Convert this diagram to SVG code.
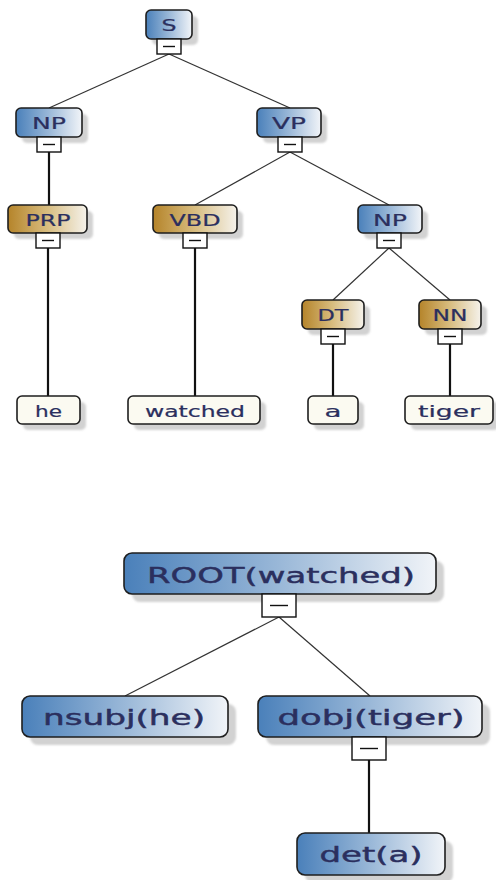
<svg xmlns="http://www.w3.org/2000/svg" width="496" height="880" viewBox="0 0 496 880">
  <defs>
    <linearGradient id="gPhrase" x1="0" y1="0" x2="1" y2="0">
      <stop offset="0" stop-color="#4a80ba"/>
      <stop offset="0.5" stop-color="#9ab8d8"/>
      <stop offset="1" stop-color="#f1f4f8"/>
    </linearGradient>
    <linearGradient id="gTag" x1="0" y1="0" x2="1" y2="0">
      <stop offset="0" stop-color="#b5842a"/>
      <stop offset="0.5" stop-color="#d8bd80"/>
      <stop offset="1" stop-color="#f5f2eb"/>
    </linearGradient>
    <filter id="soft" x="-20%" y="-30%" width="140%" height="160%">
      <feGaussianBlur stdDeviation="1.1"/>
    </filter>
  </defs>
  <style>
    .box{stroke:#1e1e1e;stroke-width:1.6}
    .phrase{fill:url(#gPhrase)}
    .tag{fill:url(#gTag)}
    .leaf{fill:#fbfaf1}
    .shadow{fill:#d2d2d2;filter:url(#soft)}
    .handle{fill:#fff;stroke:#111;stroke-width:1.4}
    .minus{stroke:#111;stroke-width:1.4}
    .edge{stroke:#333;stroke-width:1.2;fill:none}
    .stem{stroke:#111;stroke-width:2.2;fill:none}
    text{font-family:"DejaVu Sans",Verdana,sans-serif;fill:#2b2f5e;stroke:#2b2f5e;text-anchor:middle}
    .t1{font-size:15px;stroke-width:0.2}
    .t2{font-size:22px;stroke-width:0.45}
  </style>

  <!-- connectors -->
  <g id="connectors">
    <line class="edge" x1="169" y1="54" x2="49" y2="108"/>
    <line class="edge" x1="169" y1="54" x2="290" y2="108"/>
    <line class="stem" x1="49" y1="152" x2="49" y2="205"/>
    <line class="edge" x1="290" y1="152" x2="195" y2="205"/>
    <line class="edge" x1="290" y1="152" x2="389" y2="205"/>
    <line class="stem" x1="48" y1="248" x2="48" y2="396"/>
    <line class="stem" x1="195" y1="248" x2="195" y2="396"/>
    <line class="edge" x1="389" y1="248" x2="333" y2="300"/>
    <line class="edge" x1="389" y1="248" x2="450" y2="300"/>
    <line class="stem" x1="333" y1="344" x2="333" y2="396"/>
    <line class="stem" x1="450" y1="344" x2="450" y2="396"/>
    <line class="edge" x1="279" y1="617" x2="125" y2="696"/>
    <line class="edge" x1="279" y1="617" x2="370" y2="696"/>
    <line class="stem" x1="369" y1="760" x2="369" y2="833"/>
  </g>

  <!-- constituency tree -->
  <g id="node-S">
    <rect class="shadow" x="152" y="16" width="46" height="29" rx="5"/>
    <rect class="box phrase" x="146" y="10" width="46" height="29" rx="5"/>
    <rect class="handle" x="157" y="39" width="24" height="15"/>
    <line class="minus" x1="163" y1="46.5" x2="175" y2="46.5"/>
    <text class="t1" x="169" y="31" textLength="15" lengthAdjust="spacingAndGlyphs">S</text>
  </g>
  <g id="node-NP1">
    <rect class="shadow" x="22" y="114" width="66" height="29" rx="5"/>
    <rect class="box phrase" x="16" y="108" width="66" height="29" rx="5"/>
    <rect class="handle" x="37" y="137" width="24" height="15"/>
    <line class="minus" x1="43" y1="144.5" x2="55" y2="144.5"/>
    <text class="t1" x="49" y="129" textLength="34" lengthAdjust="spacingAndGlyphs">NP</text>
  </g>
  <g id="node-VP">
    <rect class="shadow" x="263" y="114" width="64" height="29" rx="5"/>
    <rect class="box phrase" x="257" y="108" width="64" height="29" rx="5"/>
    <rect class="handle" x="278" y="137" width="24" height="15"/>
    <line class="minus" x1="284" y1="144.5" x2="296" y2="144.5"/>
    <text class="t1" x="289" y="129" textLength="34" lengthAdjust="spacingAndGlyphs">VP</text>
  </g>
  <g id="node-PRP">
    <rect class="shadow" x="14" y="211" width="79" height="28" rx="5"/>
    <rect class="box tag" x="8" y="205" width="79" height="28" rx="5"/>
    <rect class="handle" x="36" y="233" width="24" height="15"/>
    <line class="minus" x1="42" y1="240.5" x2="54" y2="240.5"/>
    <text class="t1" x="48" y="226" textLength="45" lengthAdjust="spacingAndGlyphs">PRP</text>
  </g>
  <g id="node-VBD">
    <rect class="shadow" x="159" y="211" width="84" height="28" rx="5"/>
    <rect class="box tag" x="153" y="205" width="84" height="28" rx="5"/>
    <rect class="handle" x="183" y="233" width="24" height="15"/>
    <line class="minus" x1="189" y1="240.5" x2="201" y2="240.5"/>
    <text class="t1" x="195" y="226" textLength="51" lengthAdjust="spacingAndGlyphs">VBD</text>
  </g>
  <g id="node-NP2">
    <rect class="shadow" x="364" y="211" width="64" height="28" rx="5"/>
    <rect class="box phrase" x="358" y="205" width="64" height="28" rx="5"/>
    <rect class="handle" x="377" y="233" width="24" height="15"/>
    <line class="minus" x1="383" y1="240.5" x2="395" y2="240.5"/>
    <text class="t1" x="390" y="226" textLength="34" lengthAdjust="spacingAndGlyphs">NP</text>
  </g>
  <g id="node-DT">
    <rect class="shadow" x="308" y="306" width="62" height="29" rx="5"/>
    <rect class="box tag" x="302" y="300" width="62" height="29" rx="5"/>
    <rect class="handle" x="321" y="329" width="24" height="15"/>
    <line class="minus" x1="327" y1="336.5" x2="339" y2="336.5"/>
    <text class="t1" x="333" y="321" textLength="31" lengthAdjust="spacingAndGlyphs">DT</text>
  </g>
  <g id="node-NN">
    <rect class="shadow" x="425" y="306" width="62" height="29" rx="5"/>
    <rect class="box tag" x="419" y="300" width="62" height="29" rx="5"/>
    <rect class="handle" x="438" y="329" width="24" height="15"/>
    <line class="minus" x1="444" y1="336.5" x2="456" y2="336.5"/>
    <text class="t1" x="450" y="321" textLength="35" lengthAdjust="spacingAndGlyphs">NN</text>
  </g>
  <g id="leaf-he">
    <rect class="shadow" x="23" y="402" width="63" height="28" rx="5"/>
    <rect class="box leaf" x="17" y="396" width="63" height="28" rx="5"/>
    <text class="t1" x="48.5" y="417" textLength="27" lengthAdjust="spacingAndGlyphs">he</text>
  </g>
  <g id="leaf-watched">
    <rect class="shadow" x="134" y="402" width="132" height="28" rx="5"/>
    <rect class="box leaf" x="128" y="396" width="132" height="28" rx="5"/>
    <text class="t1" x="195" y="417" textLength="100" lengthAdjust="spacingAndGlyphs">watched</text>
  </g>
  <g id="leaf-a">
    <rect class="shadow" x="314" y="402" width="50" height="28" rx="5"/>
    <rect class="box leaf" x="308" y="396" width="50" height="28" rx="5"/>
    <text class="t1" x="333" y="417" textLength="17" lengthAdjust="spacingAndGlyphs">a</text>
  </g>
  <g id="leaf-tiger">
    <rect class="shadow" x="411" y="402" width="88" height="28" rx="5"/>
    <rect class="box leaf" x="405" y="396" width="88" height="28" rx="5"/>
    <text class="t1" x="449" y="417" textLength="62" lengthAdjust="spacingAndGlyphs">tiger</text>
  </g>

  <!-- dependency tree -->
  <g id="dep-root">
    <rect class="shadow" x="132" y="561" width="312" height="41" rx="8"/>
    <rect class="box phrase" x="124" y="553" width="312" height="41" rx="8"/>
    <rect class="handle" x="262" y="594" width="34" height="23"/>
    <line class="minus" x1="270" y1="605.5" x2="288" y2="605.5"/>
    <text class="t2" x="281" y="583" textLength="268" lengthAdjust="spacingAndGlyphs">ROOT(watched)</text>
  </g>
  <g id="dep-nsubj">
    <rect class="shadow" x="30" y="704" width="206" height="41" rx="8"/>
    <rect class="box phrase" x="22" y="696" width="206" height="41" rx="8"/>
    <text class="t2" x="124" y="725" textLength="162" lengthAdjust="spacingAndGlyphs">nsubj(he)</text>
  </g>
  <g id="dep-dobj">
    <rect class="shadow" x="266" y="704" width="224" height="41" rx="8"/>
    <rect class="box phrase" x="258" y="696" width="224" height="41" rx="8"/>
    <rect class="handle" x="352" y="737" width="34" height="23"/>
    <line class="minus" x1="360" y1="748.5" x2="378" y2="748.5"/>
    <text class="t2" x="371" y="725" textLength="187" lengthAdjust="spacingAndGlyphs">dobj(tiger)</text>
  </g>
  <g id="dep-det">
    <rect class="shadow" x="305" y="841" width="148" height="42" rx="8"/>
    <rect class="box phrase" x="297" y="833" width="148" height="42" rx="8"/>
    <text class="t2" x="371" y="862" textLength="103" lengthAdjust="spacingAndGlyphs">det(a)</text>
  </g>
</svg>
